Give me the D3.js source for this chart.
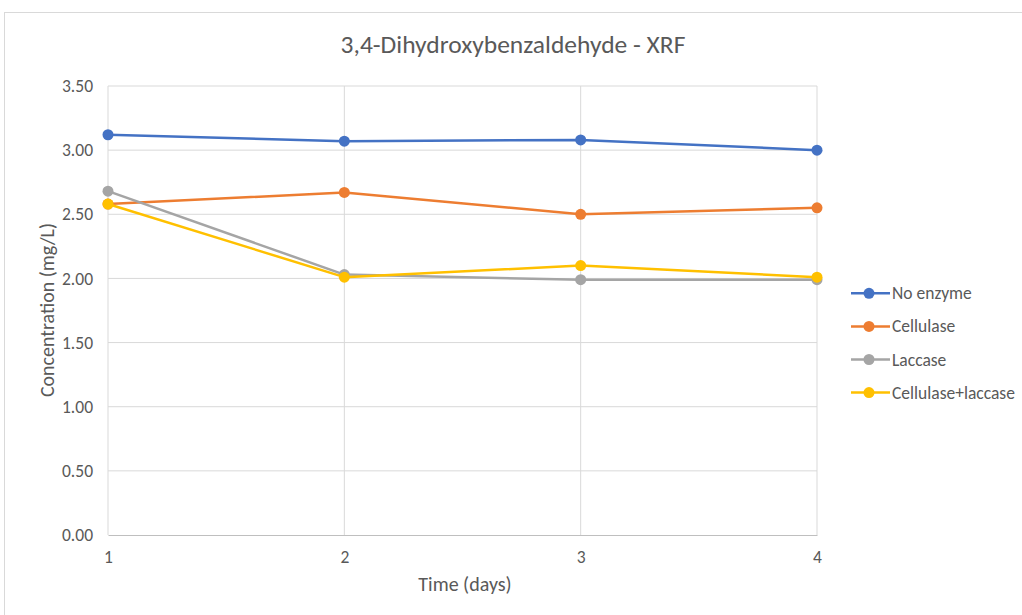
<!DOCTYPE html>
<html><head><meta charset="utf-8">
<script src="https://cdn.jsdelivr.net/npm/d3@7"></script>
<style>
body{margin:0;background:#fff;}
text{font-family:Carlito,Calibri,"Liberation Sans Narrow","Open Sans",sans-serif;fill:#595959;}
</style></head>
<body><svg id="c" width="1022" height="615"></svg>
<script>
const days = [1, 2, 3, 4];
const noEnzyme = [3.12, 3.07, 3.08, 3.00];
const cellulase = [2.58, 2.67, 2.50, 2.55];
const laccase = [2.68, 2.03, 1.99, 1.99];
const cellLac = [2.58, 2.01, 2.10, 2.01];
const seriesNames = ["No enzyme", "Cellulase", "Laccase", "Cellulase+laccase"];
const seriesColors = ["#4472C4", "#ED7D31", "#A5A5A5", "#FFC000"];
const yTicks = [0, 0.5, 1, 1.5, 2, 2.5, 3, 3.5];
const title = "3,4-Dihydroxybenzaldehyde - XRF";
const xTitle = "Time (days)";
const yTitle = "Concentration (mg/L)";

const series = [noEnzyme, cellulase, laccase, cellLac];
const svg = d3.select("#c");
svg.append("rect").attr("x",4.5).attr("y",12.5).attr("width",1030).attr("height",620)
  .attr("fill","#fff").attr("stroke","#d9d9d9");

const x = d3.scaleLinear().domain([1,4]).range([108,817]);
const y = d3.scaleLinear().domain([0,3.5]).range([535,86]);

// gridlines
svg.append("g").selectAll("line").data(yTicks.slice(1)).join("line")
  .attr("x1",108).attr("x2",817).attr("y1",d=>y(d)).attr("y2",d=>y(d))
  .attr("stroke","#d9d9d9").attr("stroke-width",1);
svg.append("g").selectAll("line").data(days).join("line")
  .attr("x1",d=>x(d)).attr("x2",d=>x(d)).attr("y1",86).attr("y2",535)
  .attr("stroke","#d9d9d9").attr("stroke-width",1);

// axes
const yAxis = svg.append("g").attr("transform","translate(108,0)")
  .call(d3.axisLeft(y).tickValues(yTicks).tickFormat(d3.format(".2f")).tickSize(0).tickPadding(15));
yAxis.select(".domain").remove();
yAxis.selectAll("text").attr("font-size",17.5).style("fill","#595959");

const xAxis = svg.append("g").attr("transform","translate(0,535)")
  .call(d3.axisBottom(x).tickValues(days).tickFormat(d3.format("d")).tickSize(0).tickPadding(15.5));
xAxis.select(".domain").attr("stroke","#bfbfbf").attr("stroke-width",1.2);
xAxis.selectAll("text").attr("font-size",17.5).style("fill","#595959");

// titles
svg.append("text").attr("x",513).attr("y",53).attr("text-anchor","middle").attr("font-size",25.5).text(title);
svg.append("text").attr("x",465).attr("y",591).attr("text-anchor","middle").attr("font-size",20).text(xTitle);
svg.append("text").attr("transform","translate(54,310) rotate(-90)").attr("text-anchor","middle").attr("font-size",20).text(yTitle);

// lines
const line = d3.line().x((d,i)=>x(days[i])).y(d=>y(d));
series.forEach((s,k)=>{
  const g = svg.append("g");
  g.append("path").datum(s).attr("d",line).attr("fill","none")
    .attr("stroke",seriesColors[k]).attr("stroke-width",2.5).attr("stroke-linejoin","round");
  g.selectAll("circle").data(s).join("circle")
    .attr("cx",(d,i)=>x(days[i])).attr("cy",d=>y(d)).attr("r",5.5).attr("fill",seriesColors[k]);
});

// legend
const lg = svg.append("g");
seriesNames.forEach((n,k)=>{
  const yy = 293.3 + k*33.1;
  lg.append("line").attr("x1",851).attr("x2",890).attr("y1",yy).attr("y2",yy)
    .attr("stroke",seriesColors[k]).attr("stroke-width",2.5);
  lg.append("circle").attr("cx",869).attr("cy",yy).attr("r",5.5).attr("fill",seriesColors[k]);
  lg.append("text").attr("x",892).attr("y",yy+6).attr("font-size",17.5).text(n);
});
</script></body></html>
